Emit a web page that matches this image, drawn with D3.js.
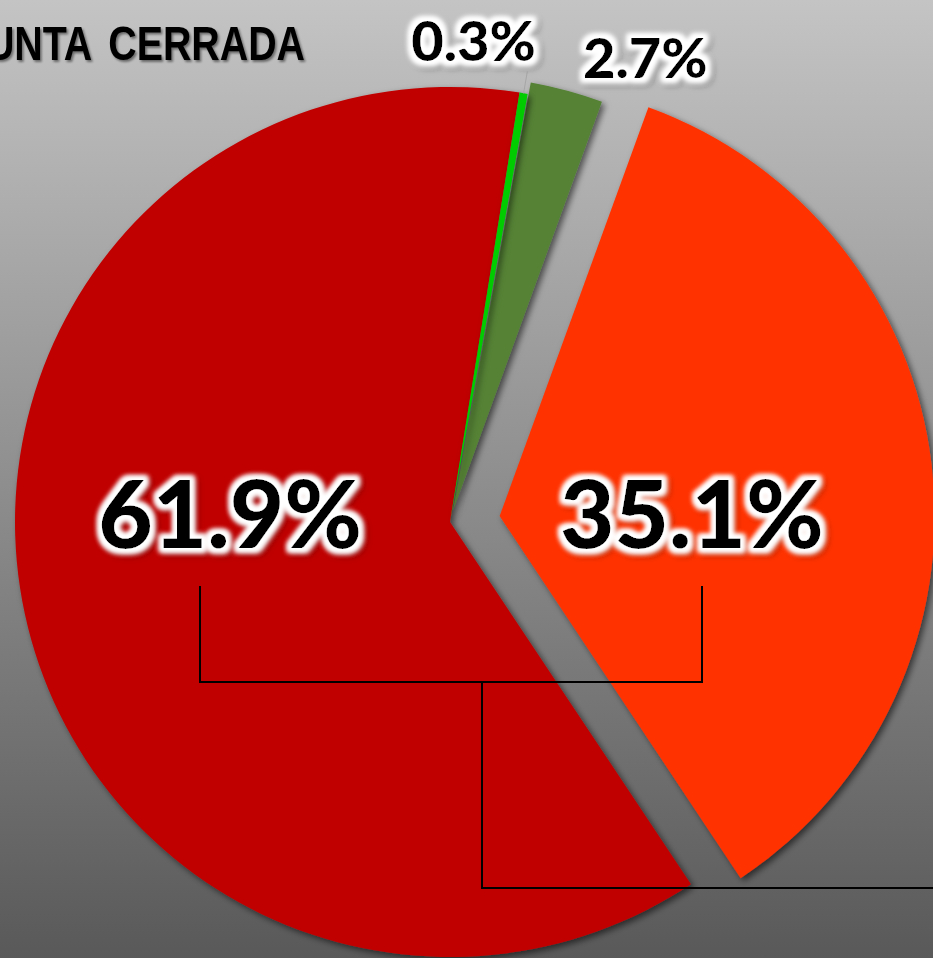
<!DOCTYPE html>
<html>
<head>
<meta charset="utf-8">
<script src="https://cdn.jsdelivr.net/npm/d3@7"></script>
<style>
    html, body { margin: 0; padding: 0; overflow: hidden; }
    svg { display: block; }
</style>
</head>
<body>
<div id="chart"></div>
<script>
var title = 'PREGUNTA CERRADA';
var categories = ['Otro', 'No sabe', 'No', 'Sí'];
var values = [0.3, 2.7, 35.1, 61.9];
var labels = ['0.3%', '2.7%', '35.1%', '61.9%'];
var colors = ['#00cc00', '#548235', '#ff3300', '#c00000'];

window.onload = start;

function start() {
    var width = 933;
    var height = 958;
    var cx = 450;
    var cy = 522;
    var radius = 435;
    var deg = Math.PI / 180;

    // how far each slice is pulled out
    var explode = [0, 12, 50, 0];
    var bigFont = 94;
    var smallFont = 56;

    var svg = d3
        .select('#chart')
        .append('svg')
        .attr('width', width)
        .attr('height', height);

    var defs = svg.append('defs');

    var bg = defs
        .append('linearGradient')
        .attr('id', 'bg')
        .attr('x1', 0).attr('y1', 0)
        .attr('x2', 0).attr('y2', 1);
    bg.append('stop').attr('offset', '0%').attr('stop-color', '#c4c4c4');
    bg.append('stop').attr('offset', '100%').attr('stop-color', '#595959');

    var shadow = defs
        .append('filter')
        .attr('id', 'shadow')
        .attr('x', '-10%').attr('y', '-10%')
        .attr('width', '120%').attr('height', '120%');
    shadow
        .append('feDropShadow')
        .attr('dx', 3)
        .attr('dy', 3)
        .attr('stdDeviation', 3)
        .attr('flood-color', '#000')
        .attr('flood-opacity', 0.55);

    // white glow + soft dark shadow behind label text
    var glow = defs
        .append('filter')
        .attr('id', 'glow')
        .attr('x', '-20%').attr('y', '-30%')
        .attr('width', '140%').attr('height', '160%');
    glow.append('feMorphology').attr('in', 'SourceAlpha').attr('operator', 'dilate').attr('radius', 4).attr('result', 'fat');
    glow.append('feGaussianBlur').attr('in', 'fat').attr('stdDeviation', 2.5).attr('result', 'fatBlur');
    glow.append('feFlood').attr('flood-color', '#fff').attr('result', 'white');
    glow.append('feComposite').attr('in', 'white').attr('in2', 'fatBlur').attr('operator', 'in').attr('result', 'halo');
    glow.append('feOffset').attr('in', 'fatBlur').attr('dx', 3).attr('dy', 3).attr('result', 'off');
    glow.append('feGaussianBlur').attr('in', 'off').attr('stdDeviation', 2).attr('result', 'offBlur');
    glow.append('feFlood').attr('flood-color', '#000').attr('flood-opacity', 0.45).attr('result', 'dark');
    glow.append('feComposite').attr('in', 'dark').attr('in2', 'offBlur').attr('operator', 'in').attr('result', 'drop');
    var gm = glow.append('feMerge');
    gm.append('feMergeNode').attr('in', 'drop');
    gm.append('feMergeNode').attr('in', 'halo');
    gm.append('feMergeNode').attr('in', 'halo');
    gm.append('feMergeNode').attr('in', 'SourceGraphic');

    var titleShadow = defs.append('filter').attr('id', 'titleShadow');
    titleShadow
        .append('feDropShadow')
        .attr('dx', 2)
        .attr('dy', 2)
        .attr('stdDeviation', 1.2)
        .attr('flood-color', '#000')
        .attr('flood-opacity', 0.45);

    svg.append('rect')
        .attr('width', width)
        .attr('height', height)
        .attr('fill', 'url(#bg)');

    var pie = d3
        .pie()
        .sort(null)
        .value(function(d) { return d; })
        .startAngle(9.2 * deg)
        .endAngle(9.2 * deg + 2 * Math.PI);

    var arc = d3.arc().innerRadius(0).outerRadius(radius);
    var slices = pie(values);

    function offset(d, i) {
        var mid = (d.startAngle + d.endAngle) / 2;
        return [Math.sin(mid) * explode[i], -Math.cos(mid) * explode[i]];
    }

    var pieG = svg.append('g').attr('transform', 'translate(' + cx + ',' + cy + ')');

    // draw the big red first so the pulled-out pieces sit over its shadow
    var drawOrder = [3, 2, 1, 0];
    pieG
        .selectAll('path')
        .data(drawOrder.map(function(i) { return { s: slices[i], i: i }; }))
        .enter()
        .append('path')
        .attr('d', function(d) { return arc(d.s); })
        .attr('fill', function(d) { return colors[d.i]; })
        .attr('filter', 'url(#shadow)')
        .attr('transform', function(d) {
            var o = offset(d.s, d.i);
            return 'translate(' + o[0] + ',' + o[1] + ')';
        });

    // leader line for the tiny slice
    var tiny = slices[0];
    var tinyMid = (tiny.startAngle + tiny.endAngle) / 2;
    pieG.append('line')
        .attr('x1', Math.sin(tinyMid) * radius)
        .attr('y1', -Math.cos(tinyMid) * radius)
        .attr('x2', Math.sin(tinyMid) * (radius + 22))
        .attr('y2', -Math.cos(tinyMid) * (radius + 22))
        .attr('stroke', '#a6a6a6')
        .attr('stroke-width', 1);

    // label placement: angle (deg, clockwise from top) and distance from pie centre
    var labelPlace = [
        { a: 2.8, r: 482, size: smallFont },
        { a: 22.8, r: 504, size: smallFont },
        { a: 88.1, r: 242, size: bigFont },
        { a: 272, r: 220, size: bigFont }
    ];

    var labelPos = labelPlace.map(function(p) {
        return [Math.sin(p.a * deg) * p.r, -Math.cos(p.a * deg) * p.r];
    });

    pieG
        .selectAll('.lbl')
        .data(labels)
        .enter()
        .append('text')
        .attr('class', 'lbl')
        .attr('x', function(d, i) { return labelPos[i][0]; })
        .attr('y', function(d, i) { return labelPos[i][1]; })
        .attr('dy', '0.36em')
        .attr('text-anchor', 'middle')
        .attr('font-family', 'Lato, "Open Sans", sans-serif')
        .attr('font-weight', 900)
        .attr('font-size', function(d, i) { return labelPlace[i].size; })
        .attr('fill', '#000')
        .attr('filter', 'url(#glow)')
        .text(function(d) { return d; });

    // bracket joining the two big labels
    var lx = -250;
    var rx = 252;
    var topY = 64;
    var barY = 160;
    var stemX = 32;
    var lowY = 366;
    var path = d3.path();
    path.moveTo(lx, topY);
    path.lineTo(lx, barY);
    path.lineTo(rx, barY);
    path.lineTo(rx, topY);
    path.moveTo(stemX, barY);
    path.lineTo(stemX, lowY);
    path.lineTo(width, lowY);
    pieG.append('path')
        .attr('d', path.toString())
        .attr('fill', 'none')
        .attr('stroke', '#000')
        .attr('stroke-width', 2);

    // condensed title, squeezed horizontally about its right end
    svg.append('g')
        .attr('transform', 'translate(305,60) scale(0.82,1)')
        .append('text')
        .attr('x', 0)
        .attr('y', 0)
        .attr('text-anchor', 'end')
        .attr('font-family', '"Liberation Sans Narrow", "Liberation Sans", Arial, sans-serif')
        .attr('font-weight', 'bold')
        .attr('font-size', 48)
        .attr('word-spacing', 8)
        .attr('fill', '#000')
        .attr('filter', 'url(#titleShadow)')
        .text(title);
}
</script>
</body>
</html>
